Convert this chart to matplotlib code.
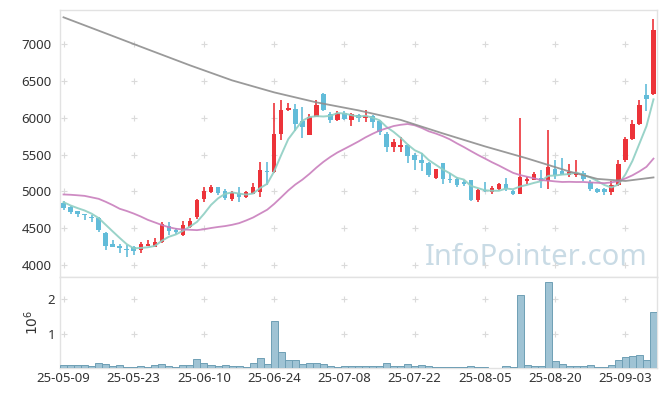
import numpy as np
import pandas as pd
import matplotlib
matplotlib.use('Agg')
import matplotlib.pyplot as plt

plt.rcParams['font.family'] = ['Noto Sans', 'DejaVu Sans']

# daily OHLC (85 trading days, 2025-05-09 .. 2025-09-09)
opens = [4840, 4783, 4733, 4697, 4657, 4643, 4440, 4281, 4254, 4225,
         4250, 4200, 4267, 4250, 4313, 4525, 4480, 4412, 4516, 4651,
         4900, 4990, 5058, 5000, 4900, 4982, 4923, 4969, 4995, 5275,
         5262, 5783, 6110, 6122, 5960, 5765, 6015, 6320, 6054, 5968,
         6062, 5973, 6040, 6000, 6018, 5950, 5783, 5601, 5601, 5624,
         5488, 5430, 5384, 5180, 5380, 5165, 5172, 5126, 5149, 4878,
         5020, 4990, 5036, 5095, 5000, 4968, 5140, 5159, 5180, 5140,
         5308, 5271, 5217, 5217, 5253, 5126, 5036, 5036, 4990, 5081,
         5421, 5715, 5918, 6303, 6326]
highs = [4870, 4800, 4740, 4700, 4680, 4650, 4445, 4335, 4290, 4270,
         4260, 4320, 4345, 4362, 4590, 4584, 4500, 4593, 4640, 4900,
         5058, 5085, 5065, 5030, 5000, 5060, 5010, 5120, 5400, 5400,
         6195, 6240, 6200, 6190, 6140, 6050, 6245, 6340, 6080, 6085,
         6085, 6065, 6055, 6099, 6030, 5964, 5805, 5715, 5737, 5647,
         5520, 5516, 5400, 5310, 5385, 5244, 5200, 5150, 5160, 5030,
         5126, 5080, 5120, 5186, 5020, 5990, 5200, 5260, 5290, 5837,
         5420, 5457, 5366, 5430, 5280, 5150, 5040, 5040, 5140, 5421,
         5740, 5973, 6244, 6452, 7343]
lows = [4750, 4700, 4655, 4610, 4590, 4450, 4200, 4240, 4160, 4110,
        4145, 4170, 4260, 4240, 4300, 4403, 4420, 4400, 4500, 4630,
        4860, 4985, 4950, 4880, 4870, 4860, 4910, 4960, 4930, 5090,
        5250, 5700, 6085, 5820, 5720, 5760, 6010, 6090, 5930, 5960,
        5975, 5890, 5940, 5940, 5864, 5760, 5533, 5533, 5533, 5389,
        5294, 5275, 5190, 5175, 5095, 5109, 5060, 5070, 4870, 4855,
        4990, 4960, 5020, 5010, 4950, 4960, 5100, 5155, 5040, 5036,
        5172, 5217, 5194, 5194, 5140, 5010, 4977, 4946, 4946, 5075,
        5400, 5692, 5896, 6090, 6303]
closes = [4770, 4719, 4697, 4674, 4634, 4471, 4267, 4245, 4231, 4210,
          4190, 4294, 4290, 4321, 4562, 4461, 4450, 4539, 4606, 4878,
          5005, 5058, 4982, 4914, 4977, 4923, 4990, 5058, 5285, 5262,
          5773, 6099, 6125, 5918, 5880, 6015, 6167, 6100, 5964, 6068,
          5986, 6054, 6000, 6022, 5940, 5805, 5601, 5669, 5624, 5479,
          5421, 5384, 5217, 5308, 5163, 5159, 5081, 5095, 4878, 5014,
          5010, 5050, 5095, 5027, 4968, 5194, 5163, 5230, 5140, 5330,
          5217, 5226, 5262, 5253, 5172, 5036, 4990, 4990, 5081, 5375,
          5715, 5909, 6167, 6258, 7194]
volumes = [0.10, 0.10, 0.10, 0.10, 0.07, 0.16, 0.13, 0.07, 0.10, 0.04,
           0.04, 0.07, 0.04, 0.10, 0.13, 0.07, 0.04, 0.10, 0.10, 0.26,
           0.16, 0.10, 0.07, 0.10, 0.07, 0.07, 0.04, 0.16, 0.29, 0.13,
           1.36, 0.47, 0.22, 0.22, 0.13, 0.16, 0.16, 0.13, 0.07, 0.04,
           0.07, 0.07, 0.07, 0.07, 0.07, 0.07, 0.16, 0.07, 0.07, 0.13,
           0.07, 0.10, 0.07, 0.04, 0.04, 0.04, 0.04, 0.04, 0.07, 0.04,
           0.04, 0.01, 0.01, 0.07, 0.04, 2.12, 0.10, 0.07, 0.07, 2.50,
           0.20, 0.13, 0.07, 0.07, 0.07, 0.10, 0.04, 0.04, 0.10, 0.23,
           0.32, 0.36, 0.38, 0.23, 1.64]  # millions of shares

tick_labels = ['25-05-09', '25-05-23', '25-06-10', '25-06-24', '25-07-08',
               '25-07-22', '25-08-05', '25-08-20', '25-09-03']

ma5_head = [4855, 4810, 4774, 4742]
ma20_head = [4959, 4955, 4948, 4940, 4920, 4900, 4860, 4815, 4765, 4735,
             4700, 4660, 4615, 4580, 4545, 4515, 4494, 4485, 4480]
ma120_day = [0, 6, 12, 18, 24, 30, 36, 42, 48, 54, 60, 66, 72, 76, 80, 84]
ma120_val = [7361, 7144, 6926, 6710, 6506, 6343, 6208, 6099, 5970, 5787,
             5611, 5448, 5271, 5170, 5142, 5190]

RED = '#ec3339'
BLUE = '#62bcd9'
GRID = '#dadada'
TXT = '#333333'

o = np.array(opens)
h = np.array(highs)
l = np.array(lows)
c = np.array(closes)
x = np.arange(len(c))

ma5 = pd.Series(c).rolling(5).mean().values
ma5[:len(ma5_head)] = ma5_head
ma20 = pd.Series(c).rolling(20).mean().values
ma20[:len(ma20_head)] = ma20_head

W, H = 665, 396
fig = plt.figure(figsize=(W / 100, H / 100), dpi=100)
ax = fig.add_axes([60 / W, 1 - 277 / H, 597 / W, 267 / H])
axv = fig.add_axes([60 / W, 1 - 368 / H, 597 / W, 91 / H], sharex=ax)

up = c >= o
colors = np.where(up, RED, BLUE)
body_lo = np.minimum(o, c)
body_h = np.maximum(np.abs(c - o), 8)
ax.vlines(x, l, h, colors=colors, lw=1.2, zorder=2)
ax.bar(x, body_h, bottom=body_lo, width=0.64, color=colors, lw=0, zorder=3)

ax.plot(x, ma5, color='#8fcfc3', lw=1.4, alpha=0.9, zorder=4)
ax.plot(x, ma20, color='#c97fbd', lw=1.3, alpha=0.9, zorder=4)
ax.plot(ma120_day, ma120_val, color='#8f8f8f', lw=1.3, alpha=0.9, zorder=4)

axv.bar(x, volumes, width=1.0, color='#9fc3d4', edgecolor='#6f9fb5', lw=0.7, zorder=3)

xt = np.arange(0, len(c), 10)
yt = np.arange(4000, 7001, 500)
vt = [1, 2]
gx, gy = np.meshgrid(xt, yt)
ax.scatter(gx.ravel(), gy.ravel(), marker='+', s=18, color=GRID, lw=0.8, zorder=1)
gx, gy = np.meshgrid(xt, vt)
axv.scatter(gx.ravel(), gy.ravel(), marker='+', s=18, color=GRID, lw=0.8, zorder=1)

ax.set_xlim(-0.5, len(c) - 0.5)
ax.set_ylim(3840, 7460)
ax.set_yticks(yt)
ax.tick_params(axis='y', length=0, labelsize=9.5, labelcolor=TXT, pad=6)
ax.tick_params(axis='x', length=0, labelbottom=False)

axv.set_ylim(0, 2.65)
axv.set_yticks(vt)
axv.set_yticklabels(['1', '2'])
axv.set_xticks(xt)
axv.set_xticklabels(tick_labels)
axv.tick_params(length=0, labelsize=9.5, labelcolor=TXT)
axv.tick_params(axis='x', pad=3)
axv.set_ylabel('$10^{6}$', fontsize=10, color=TXT, labelpad=4)

for a in (ax, axv):
    for s in a.spines.values():
        s.set_color('#e2e2e2')
        s.set_linewidth(1.0)

ax.text(0.985, 0.02, 'InfoPointer.com', transform=ax.transAxes, ha='right', va='bottom',
        fontsize=21, color='#c9dbe5', zorder=0)

fig.savefig('out.png', dpi=100, facecolor='white')
